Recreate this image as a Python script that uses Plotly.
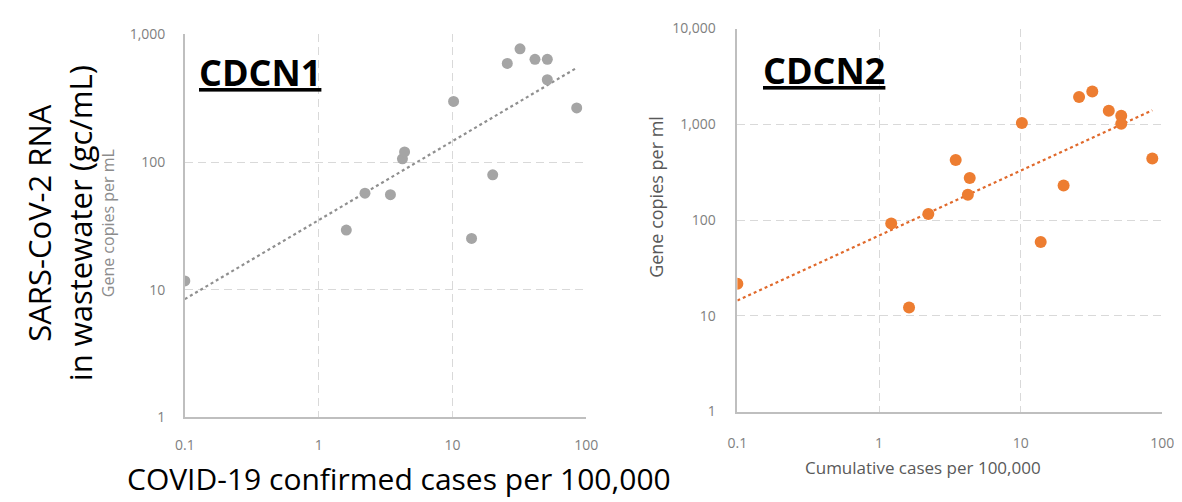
import numpy as np
import plotly.graph_objects as go

W, H = 1182, 502

# ---- data ----
n1_cases = [0.1, 1.61, 2.22, 3.44, 4.23, 4.39, 10.2, 13.9, 20.0, 25.7, 32.0, 41.4, 51.2, 51.2, 84.9]
n1_copies = [11.7, 29.3, 57, 55.5, 106, 120, 298, 25.2, 79.4, 592, 771, 638, 638, 441, 265]

n2_cases = [0.1, 1.22, 1.63, 2.23, 3.48, 4.24, 4.37, 10.2, 13.85, 20.1, 25.85, 32.05, 41.9, 51.3, 51.3, 85.0]
n2_copies = [21.6, 91.8, 12.2, 116, 423, 184, 275, 1035, 59, 230, 1933, 2205, 1387, 1227, 1012, 440]

x_tickvals = [0.1, 1, 10, 100]
x_ticktext = ["0.1", "1", "10", "100"]
y1_tickvals = [1, 10, 100, 1000]
y1_ticktext = ["1", "10", "100", "1,000"]
y2_tickvals = [1, 10, 100, 1000, 10000]
y2_ticktext = ["1", "10", "100", "1,000", "10,000"]

GRAY = "#a5a5a5"
ORANGE = "#ed7d31"
FONT = "Open Sans"


def power_fit(x, y):
    lx, ly = np.log10(x), np.log10(y)
    b, a = np.polyfit(lx, ly, 1)
    xs = np.array([min(x), max(x)])
    return xs, 10 ** (a + b * np.log10(xs))


def px(x):
    return x / W


def py(y):
    return 1 - y / H


fig = go.Figure()

t1x, t1y = power_fit(n1_cases, n1_copies)
t2x, t2y = power_fit(n2_cases, n2_copies)

fig.add_trace(go.Scatter(x=t1x, y=t1y, mode="lines", xaxis="x", yaxis="y",
                         line=dict(color="#8f8f8f", width=2.2, dash="dot"), hoverinfo="skip"))
fig.add_trace(go.Scatter(x=n1_cases, y=n1_copies, mode="markers", xaxis="x", yaxis="y",
                         marker=dict(color=GRAY, size=11, line=dict(width=0))))
fig.add_trace(go.Scatter(x=t2x, y=t2y, mode="lines", xaxis="x2", yaxis="y2",
                         line=dict(color="#e0692b", width=2.2, dash="dot"), hoverinfo="skip"))
fig.add_trace(go.Scatter(x=n2_cases, y=n2_copies, mode="markers", xaxis="x2", yaxis="y2",
                         marker=dict(color=ORANGE, size=12, line=dict(width=0))))

grid = dict(showgrid=True, gridcolor="#d9d9d9", griddash="8px,5px", gridwidth=1,
            showline=True, linecolor="#bfbfbf", linewidth=1.5, zeroline=False,
            ticks="", tickfont=dict(family=FONT, size=14, color="#808080"))

fig.update_layout(
    width=W, height=H,
    margin=dict(l=0, r=0, t=0, b=0),
    paper_bgcolor="white", plot_bgcolor="white",
    showlegend=False,
    xaxis=dict(type="log", range=[-1, 2], domain=[px(170), px(579)], anchor="y",
               tickvals=x_tickvals, ticktext=x_ticktext, ticklabelstandoff=14, **grid),
    yaxis=dict(type="log", range=[0, 3], domain=[py(415), py(17)], anchor="x",
               tickvals=y1_tickvals, ticktext=y1_ticktext, ticklabelstandoff=15, **grid),
    xaxis2=dict(type="log", range=[-1, 2], domain=[px(733), px(1166)], anchor="y2",
                tickvals=x_tickvals, ticktext=x_ticktext, ticklabelstandoff=18, **grid),
    yaxis2=dict(type="log", range=[0, 4], domain=[py(409), py(11)], anchor="x2",
                tickvals=y2_tickvals, ticktext=y2_ticktext, ticklabelstandoff=17, **grid),
)

ann = [
    dict(text="<b><u>CDCN1</u></b>", x=px(247), y=py(57), font=dict(family=FONT, size=36, color="black")),
    dict(text="<b><u>CDCN2</u></b>", x=px(821), y=py(55), font=dict(family=FONT, size=36, color="black")),
    dict(text="SARS-CoV-2 RNA<br>in wastewater (gc/mL)", x=px(42), y=py(213), textangle=-90,
         font=dict(family=FONT, size=31, color="black")),
    dict(text="Gene copies per mL", x=px(92), y=py(213), textangle=-90,
         font=dict(family=FONT, size=16, color="#8c8c8c")),
    dict(text="COVID-19 confirmed cases per 100,000", x=px(388), y=py(479),
         font=dict(family=FONT, size=30, color="black")),
    dict(text="Gene copies per ml", x=px(650), y=py(186), textangle=-90,
         font=dict(family=FONT, size=18, color="#595959")),
    dict(text="Cumulative cases per 100,000", x=px(922), y=py(467),
         font=dict(family=FONT, size=17, color="#595959")),
]
for a in ann:
    fig.add_annotation(xref="paper", yref="paper", showarrow=False,
                       xanchor="center", yanchor="middle", **a)

fig.write_html("out.html")
